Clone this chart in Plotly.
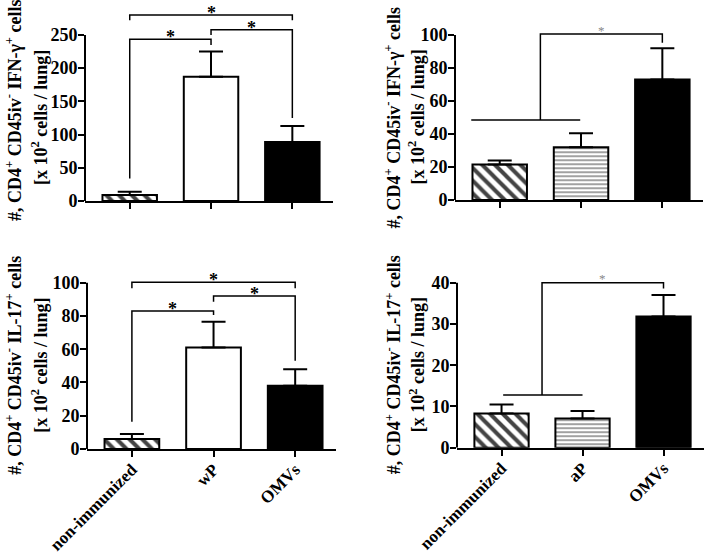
import plotly.graph_objects as go

# ---------------- data ----------------
cats_wp = ["non-immunized", "wP", "OMVs"]
cats_ap = ["non-immunized", "aP", "OMVs"]

ifn_wp_mean = [9, 187, 89]
ifn_wp_sem = [5, 38, 24]
ifn_ap_mean = [21.5, 32, 73]
ifn_ap_sem = [2.5, 8.5, 19]
il17_wp_mean = [6, 61, 38]
il17_wp_sem = [3, 15.5, 10]
il17_ap_mean = [8.3, 7.1, 31.8]
il17_ap_sem = [2.2, 1.8, 5.2]

ifn_wp_ticks = [0, 50, 100, 150, 200, 250]
ifn_ap_ticks = [0, 20, 40, 60, 80, 100]
il17_wp_ticks = [0, 20, 40, 60, 80, 100]
il17_ap_ticks = [0, 10, 20, 30, 40]

# pairwise brackets: (x_left, x_right, y_level, y_left_end, y_right_end)
ifn_wp_brackets = [(0, 1, 243.5, 34, 235), (1, 2, 258, 250, 125), (0, 2, 280, 272, 272)]
il17_wp_brackets = [(0, 1, 83, 16.4, 80.6), (1, 2, 92, 88.6, 53), (0, 2, 100.2, 96.6, 96.6)]
# group-vs-OMVs bracket: (group line x0, group line x1, group y, top y, right end y)
ifn_ap_group = (-0.35, 0.99, 48.5, 100.6, 95.3)
il17_ap_group = (0.02, 1.0, 12.8, 40, 38.6)

title_ifn = "#, CD4<sup>+</sup> CD45iv<sup>-</sup> IFN-γ<sup>+</sup> cells"
title_il17 = "#, CD4<sup>+</sup> CD45iv<sup>-</sup> IL-17<sup>+</sup> cells"
title_units = "[x 10<sup>2</sup> cells / lung]"

# ---------------- styling ----------------
W, H = 709, 554
FONT = "Liberation Serif"
XR = [-0.55, 2.5]


def px_x(p):
    return p / W


def px_y(p):
    return 1 - p / H


fig = go.Figure()
shapes = []
annotations = []
layout = {}

panels = [
    # suffix, cats, mean, sem, ticks, yrange, x-domain px, y-domain px (bottom, top), patterns,
    # bracket kind, brackets, title, title x px, show x labels, title line-1 shift
    ("", cats_wp, ifn_wp_mean, ifn_wp_sem, ifn_wp_ticks, [0, 290], (85, 333), (201, 8.4),
     ["\\", "", ""], "pair", ifn_wp_brackets, title_ifn, (14, 40), False, 8),
    ("2", cats_ap, ifn_ap_mean, ifn_ap_sem, ifn_ap_ticks, [0, 115], (455, 703), (200, 10.25),
     ["\\", "-", ""], "group", ifn_ap_group, title_ifn, (393, 417), False, 0),
    ("3", cats_wp, il17_wp_mean, il17_wp_sem, il17_wp_ticks, [0, 108], (87, 336), (449, 269.4),
     ["\\", "", ""], "pair", il17_wp_brackets, title_il17, (14, 40), True, 0),
    ("4", cats_ap, il17_ap_mean, il17_ap_sem, il17_ap_ticks, [0, 44], (457, 704), (447.7, 266.2),
     ["\\", "-", ""], "group", il17_ap_group, title_il17, (393, 417), True, 0),
]

for suf, cats, mean, sem, ticks, yr, xd, yd, pats, kind, br, t1, tx, showx, t1shift in panels:
    xa, ya = "x" + suf, "y" + suf
    colors = ["white", "white", "black"]
    fgs = ["black", "#7a7a7a", "black"]
    fig.add_trace(go.Bar(
        x=[0, 1, 2], y=mean, xaxis=xa, yaxis=ya, width=0.67,
        marker=dict(color=colors, line=dict(color="black", width=2),
                    pattern=dict(shape=pats, fgcolor=fgs, fillmode="overlay", fgopacity=1,
                                 size=[9, 4, 8], solidity=[0.45, 0.25, 0.3])),
        error_y=dict(type="data", array=sem, arrayminus=[0, 0, 0], symmetric=False,
                     color="black", thickness=2, width=12),
        showlegend=False,
    ))
    layout["xaxis" + suf] = dict(
        domain=[px_x(xd[0]), px_x(xd[1])], range=XR, anchor=ya, automargin=False,
        tickvals=[0, 1, 2], ticktext=cats, tickangle=-45, showticklabels=showx,
        ticks="outside", ticklen=6, tickwidth=2, tickcolor="black",
        showline=True, linewidth=2, linecolor="black", showgrid=False, zeroline=False,
        ticklabelstandoff=-4,
        tickfont=dict(family=FONT, size=17, color="black", weight="bold"),
    )
    layout["yaxis" + suf] = dict(
        domain=[px_y(yd[0]), px_y(yd[1])], range=yr, anchor=xa, automargin=False,
        tickvals=ticks, ticks="outside", ticklen=6, tickwidth=2, tickcolor="black",
        showline=False, showgrid=False, zeroline=False, ticklabelstandoff=-3,
        tickfont=dict(family=FONT, size=18, color="black", weight="bold"),
    )
    # y axis line up to the top tick
    shapes.append(dict(type="line", xref=xa + " domain", yref=ya, x0=0, x1=0,
                       y0=ticks[0], y1=ticks[-1], line=dict(color="black", width=2)))
    line = dict(color="black", width=1.5)
    if kind == "pair":
        for (a, b, lvl, la, lb) in br:
            shapes.append(dict(type="path", xref=xa, yref=ya,
                               path=f"M {a},{la} L {a},{lvl} L {b},{lvl} L {b},{lb}",
                               line=line))
            annotations.append(dict(xref=xa, yref=ya, x=(a + b) / 2, y=lvl, yanchor="middle",
                                    text="*", showarrow=False, yshift=2,
                                    font=dict(family=FONT, size=18, color="black", weight="bold")))
    else:
        g0, g1, gy, ty, ry = br
        mid = 0.5
        shapes.append(dict(type="line", xref=xa, yref=ya, x0=g0, x1=g1, y0=gy, y1=gy, line=line))
        shapes.append(dict(type="path", xref=xa, yref=ya,
                           path=f"M {mid},{gy} L {mid},{ty} L 2,{ty} L 2,{ry}", line=line))
        annotations.append(dict(xref=xa, yref=ya, x=(mid + 2) / 2, y=ty, yanchor="middle",
                                text="*", showarrow=False, yshift=4,
                                font=dict(family=FONT, size=13, color="#888888")))
    # y titles
    ymid = (ticks[0] + ticks[-1]) / 2
    annotations.append(dict(xref="paper", yref=ya, x=px_x(tx[0]), y=ymid, xanchor="center",
                            yanchor="middle", textangle=-90, text=t1, showarrow=False,
                            yshift=t1shift,
                            font=dict(family=FONT, size=18, color="black", weight="bold")))
    annotations.append(dict(xref="paper", yref=ya, x=px_x(tx[1]), y=ymid, xanchor="center",
                            yanchor="middle", textangle=-90, text=title_units, showarrow=False,
                            font=dict(family=FONT, size=18, color="black", weight="bold")))

fig.update_layout(
    template="none",
    width=W, height=H, margin=dict(l=0, r=0, t=0, b=0, autoexpand=False),
    paper_bgcolor="white", plot_bgcolor="white",
    shapes=shapes, annotations=annotations, bargap=0.3,
    **layout,
)

fig.write_html("out.html", config={"displayModeBar": False},
               post_script="document.body.style.margin='0';")
